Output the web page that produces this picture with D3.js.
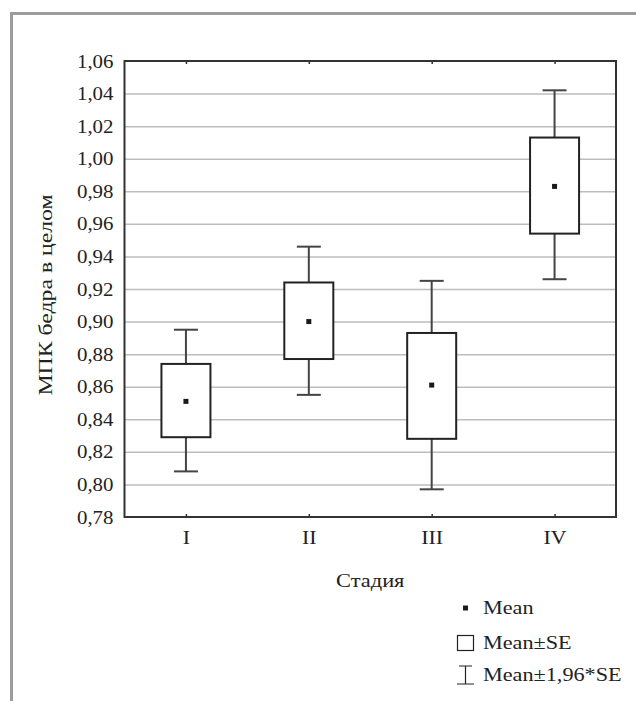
<html>
<head>
<meta charset="UTF-8">
<title>МПК бедра</title>
<style>
  body { margin: 0; background: #fff; }
  text { font-family: "Liberation Serif", "Times New Roman", serif; fill: #222; }
  .grid line { stroke: #bdbdbd; stroke-width: 1.5; }
  .grid .domain { display: none; }
</style>
<script src="https://d3js.org/d3.v7.min.js"></script>
</head>
<body>
<script>
// data
const stages = ["I", "II", "III", "IV"];
const means = [0.851, 0.900, 0.861, 0.983];
const seLow = [0.829, 0.877, 0.828, 0.954];
const seHigh = [0.874, 0.924, 0.893, 1.013];
const ciLow = [0.808, 0.855, 0.797, 0.926];
const ciHigh = [0.895, 0.946, 0.925, 1.042];
const yTicks = d3.range(0, 15).map(i => +(0.78 + i * 0.02).toFixed(2));
const legendLabels = ["Mean", "Mean±SE", "Mean±1,96*SE"];

const W = 636, H = 701;
const margin = { left: 124.5, top: 61, right: 20, bottom: 184 };
const width = W - margin.left - margin.right;
const height = H - margin.top - margin.bottom;
const FS = 19;

const svg = d3.select("body").append("svg")
  .attr("width", W).attr("height", H);

// outer grey frame
svg.append("path")
  .attr("d", "M11.5," + H + "V13.5H" + W)
  .attr("fill", "none").attr("stroke", "#9c9c9c").attr("stroke-width", 3);

const g = svg.append("g")
  .attr("transform", "translate(" + margin.left + "," + margin.top + ")");

const x = d3.scalePoint().domain(stages).range([0, width]).padding(0.5);
const y = d3.scaleLinear().domain([0.78, 1.06]).range([height, 0]);

const fmt = d => d3.format(".2f")(d).replace(".", ",");

// the original type is a bit wider than Liberation Serif
function widen(sel, sx) {
  sel.each(function () {
    const t = d3.select(this);
    const x0 = +t.attr("x") || 0;
    t.attr("x", x0 / sx).attr("transform", "scale(" + sx + ",1)");
  });
}

// gridlines
g.append("g").attr("class", "grid")
  .call(d3.axisLeft(y).tickValues(yTicks.slice(1, -1)).tickSize(-width).tickFormat(""));

// y axis labels
const ya = g.append("g")
  .call(d3.axisLeft(y).tickValues(yTicks).tickSize(0).tickPadding(11).tickFormat(fmt));
ya.attr("font-family", null).attr("font-size", null);
ya.select(".domain").remove();
ya.selectAll("text").attr("font-size", FS).attr("fill", "#222").call(widen, 1.1);

// x axis labels + small inner ticks
const xa = g.append("g").attr("transform", "translate(0," + height + ")")
  .call(d3.axisBottom(x).tickSize(-3).tickPadding(14));
xa.attr("font-family", null).attr("font-size", null);
xa.select(".domain").remove();
xa.selectAll("line").attr("stroke", "#333").attr("stroke-width", 1.5);
xa.selectAll("text").attr("font-size", FS).attr("fill", "#222").call(widen, 1.15);

const xt = g.append("g")
  .call(d3.axisTop(x).tickSize(-3).tickFormat(""));
xt.select(".domain").remove();
xt.selectAll("line").attr("stroke", "#333").attr("stroke-width", 1.5);

// frame
g.append("rect")
  .attr("width", width).attr("height", height)
  .attr("fill", "none").attr("stroke", "#333").attr("stroke-width", 2);

const boxW = 49, capW = 24, dot = 5;
const data = stages.map((s, i) => ({
  s: s, m: means[i], lo: seLow[i], hi: seHigh[i], clo: ciLow[i], chi: ciHigh[i]
}));

const item = g.selectAll(".item").data(data).enter().append("g")
  .attr("class", "item");

// whiskers
item.append("line")
  .attr("x1", d => x(d.s)).attr("x2", d => x(d.s))
  .attr("y1", d => y(d.chi)).attr("y2", d => y(d.clo))
  .attr("stroke", "#444").attr("stroke-width", 2);
item.append("line")
  .attr("x1", d => x(d.s) - capW / 2).attr("x2", d => x(d.s) + capW / 2)
  .attr("y1", d => y(d.chi)).attr("y2", d => y(d.chi))
  .attr("stroke", "#444").attr("stroke-width", 2);
item.append("line")
  .attr("x1", d => x(d.s) - capW / 2).attr("x2", d => x(d.s) + capW / 2)
  .attr("y1", d => y(d.clo)).attr("y2", d => y(d.clo))
  .attr("stroke", "#444").attr("stroke-width", 2);

// boxes
item.append("rect")
  .attr("x", d => x(d.s) - boxW / 2)
  .attr("y", d => y(d.hi))
  .attr("width", boxW)
  .attr("height", d => y(d.lo) - y(d.hi))
  .attr("fill", "#fff").attr("stroke", "#222").attr("stroke-width", 2);

// mean markers
item.append("rect")
  .attr("x", d => x(d.s) - dot / 2)
  .attr("y", d => y(d.m) - dot / 2)
  .attr("width", dot).attr("height", dot)
  .attr("fill", "#1a1a1a");

// axis titles
svg.append("text")
  .attr("transform", "translate(" + (margin.left + width / 2) + ",587) scale(1.18,1)")
  .attr("text-anchor", "middle").attr("font-size", FS)
  .text("Стадия");

svg.append("text")
  .attr("transform", "translate(52,295) rotate(-90) scale(1.25,1)")
  .attr("text-anchor", "middle").attr("font-size", FS)
  .text("МПК бедра в целом");

// legend
const lg = svg.append("g").attr("transform", "translate(457,0)");
const rows = [608, 643, 675];
lg.append("rect").attr("x", 6).attr("y", rows[0] - 2.5).attr("width", 5).attr("height", 5).attr("fill", "#1a1a1a");
lg.append("rect").attr("x", 0.5).attr("y", rows[1] - 7.5).attr("width", 16).attr("height", 15)
  .attr("fill", "none").attr("stroke", "#222").attr("stroke-width", 1.2);
lg.append("path")
  .attr("d", "M2," + (rows[2] - 9) + "H15M8.5," + (rows[2] - 9) + "V" + (rows[2] + 9) + "M0," + (rows[2] + 9) + "H17")
  .attr("fill", "none").attr("stroke", "#222").attr("stroke-width", 1.2);
lg.selectAll(".lt").data(legendLabels).enter().append("text")
  .attr("class", "lt")
  .attr("transform", (d, i) => "translate(26," + (rows[i] + 6) + ") scale(1.17,1)")
  .attr("font-size", FS)
  .text(d => d);
</script>
</body>
</html>
